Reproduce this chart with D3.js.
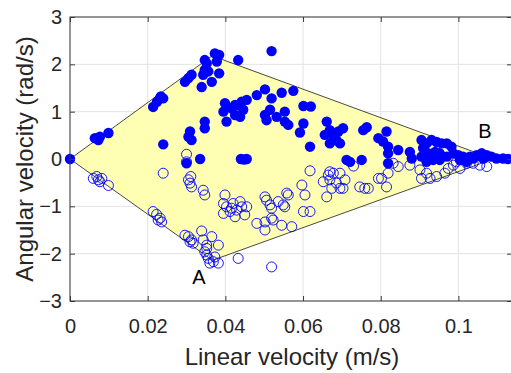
<!DOCTYPE html>
<html>
<head>
<meta charset="utf-8">
<script src="https://cdn.jsdelivr.net/npm/d3@7"></script>
<style>
  body { margin: 0; background: #fff; }
  svg { display: block; font-family: "Liberation Sans", Arial, Helvetica, sans-serif; }
</style>
</head>
<body>
<div id="chart"></div>
<script>
// reachable region (yellow polygon), vertices in data units
var regionX = [0, 0.0366, 0.109, 0.0367];
var regionY = [0, 2.18, 0, -2.14];

// filled markers (upper half)
var filledX = [0, 0.0064, 0.0077, 0.0099, 0.0073, 0.0214, 0.0224, 0.0232, 0.0234, 0.0240, 0.0240,
  0.0296, 0.0305, 0.0313, 0.0339, 0.0347, 0.0352, 0.0347, 0.0343, 0.0365, 0.0373, 0.0384, 0.0378, 0.0384, 0.0356,
  0.0433, 0.0519,
  0.0399, 0.0395, 0.0403, 0.0416, 0.0425, 0.0433, 0.0442, 0.0446, 0.0455, 0.0438, 0.0425,
  0.0481, 0.0502, 0.0519, 0.0545, 0.0575,
  0.0515, 0.0506, 0.0502, 0.0532, 0.0553, 0.0553, 0.0562,
  0.0601, 0.0620, 0.0601, 0.0592, 0.0618,
  0.0661, 0.0656, 0.0669, 0.0678, 0.0691, 0.0703, 0.0695, 0.0669, 0.0686,
  0.0347, 0.0347, 0.0309, 0.0305, 0.0313,
  0.0300, 0.0335, 0.0440, 0.0448, 0.0455, 0.0721, 0.0712,
  0.0755, 0.0764, 0.0794, 0.0815, 0.0806, 0.0819, 0.0845, 0.0875, 0.0880,
  0.0751, 0.0819, 0.0819,
  0.0905, 0.0918, 0.0931, 0.0944, 0.0957, 0.0970, 0.0982, 0.0909, 0.0922, 0.0940, 0.0952,
  0.0905, 0.0918, 0.0935, 0.0952, 0.0970, 0.0987, 0.1000, 0.1012, 0.1030, 0.1047, 0.1060,
  0.1073, 0.1085, 0.1098, 0.1115, 0.1128, 0.1004, 0.1021, 0.1038, 0.1064];
var filledY = [0, 0.44, 0.47, 0.55, 0.40, 1.10, 1.21, 1.29, 1.32, 1.28, 0.31,
  1.63, 1.71, 1.78, 1.52, 2.09, 2.02, 1.88, 1.78, 1.63, 2.23, 2.20, 2.06, 1.81, 1.85,
  2.09, 2.28,
  1.18, 1.00, 0.79, 1.07, 0.93, 1.14, 1.21, 1.04, 1.25, 0.89, 1.14,
  1.35, 1.47, 1.28, 1.40, 1.44,
  1.04, 0.82, 0.93, 0.89, 1.00, 0.79, 0.72,
  1.12, 1.11, 0.75, 0.56, 0.26,
  0.79, 0.51, 0.61, 0.47, 0.58, 0.65, 0.33, 0.33, 0.40,
  0.79, 0.65, 0.58, 0.47, 0.40,
  -0.09, 0.0, 0.0, -0.01, 0.0, -0.06, -0.02,
  0.61, 0.67, 0.44, 0.58, 0.37, 0.26, 0.19, 0.15, 0.01,
  -0.02, 0.12, -0.09,
  0.40, 0.33, 0.40, 0.36, 0.33, 0.33, 0.26, 0.23, 0.12, 0.15, 0.12,
  0.05, -0.06, -0.02, -0.02, 0.05, 0.12, 0.08, 0.05, 0.05, 0.08, 0.12,
  0.08, 0.05, 0.01, 0.01, 0.0, -0.02, -0.06, 0.01, 0.01];

// open markers (lower half)
var openX = [0.0300, 0.0060, 0.0069, 0.0073, 0.0082, 0.0099, 0.0077,
  0.0214, 0.0223, 0.0232, 0.0236, 0.0227, 0.0300, 0.0240,
  0.0305, 0.0309, 0.0313, 0.0311, 0.0343, 0.0347,
  0.0296, 0.0305, 0.0313, 0.0317, 0.0309, 0.0339, 0.0343, 0.0352, 0.0347, 0.0352, 0.0356,
  0.0399, 0.0395, 0.0403, 0.0412, 0.0420, 0.0429, 0.0438, 0.0442, 0.0450, 0.0425, 0.0416, 0.0455,
  0.0481, 0.0502, 0.0502, 0.0523, 0.0506, 0.0515, 0.0536, 0.0553, 0.0562, 0.0558, 0.0571,
  0.0597, 0.0605, 0.0618, 0.0601,
  0.0618, 0.0549, 0.0519, 0.0519, 0.0545, 0.0502, 0.0395,
  0.0652, 0.0665, 0.0669, 0.0678, 0.0695, 0.0686, 0.0703, 0.0695, 0.0661, 0.0674,
  0.0365, 0.0382, 0.0352, 0.0373, 0.0382, 0.0369, 0.0360, 0.0433, 0.0519,
  0.0746, 0.0759, 0.0768, 0.0794, 0.0802, 0.0815, 0.0819, 0.0845, 0.0832, 0.0875,
  0.0901, 0.0905, 0.0918, 0.0927, 0.0944, 0.0965, 0.0974, 0.0987, 0.1004, 0.0995,
  0.1021, 0.1038, 0.1055, 0.1073, 0.0708, 0.0669, 0.0730];
var openY = [0.10, -0.41, -0.37, -0.44, -0.41, -0.56, -0.48,
  -1.11, -1.17, -1.25, -1.33, -1.29, -0.06, -0.30,
  -0.44, -0.51, -0.59, -0.37, -0.66, -0.76,
  -1.61, -1.64, -1.71, -1.78, -1.75, -1.52, -1.71, -1.82, -1.96, -2.03, -2.10,
  -0.76, -0.94, -1.01, -1.11, -0.94, -1.08, -0.90, -1.01, -1.18, -1.22, -1.04, -1.01,
  -1.36, -1.33, -1.50, -1.29, -0.87, -0.97, -0.90, -1.01, -0.76, -0.72, -1.43,
  -0.55, -0.76, -1.11, -1.11,
  -0.25, -0.97, -1.04, -1.25, -1.40, -0.80, -1.15,
  -0.48, -0.34, -0.44, -0.30, -0.30, -0.51, -0.62, -0.62, -0.80, -0.62,
  -1.64, -1.82, -1.89, -2.07, -2.20, -2.17, -2.20, -2.10, -2.28,
  -0.59, -0.62, -0.62, -0.41, -0.41, -0.59, -0.30, -0.16, -0.09, -0.13,
  -0.23, -0.41, -0.30, -0.41, -0.37, -0.30, -0.20, -0.13, -0.20, -0.06,
  -0.09, -0.09, -0.13, -0.16, -0.44, -0.27, -0.15];

var xTicks = [0, 0.02, 0.04, 0.06, 0.08, 0.1];
var yTicks = [-3, -2, -1, 0, 1, 2, 3];
var xMax = 0.1138;

var W = 511, H = 373;
var mLeft = 70, mRight = 512, mTop = 17, mBottom = 301;

var svg = d3.select("#chart").append("svg")
    .attr("width", W)
    .attr("height", H);

var x = d3.scaleLinear().domain([0, xMax]).range([mLeft, mRight]);
var y = d3.scaleLinear().domain([-3, 3]).range([mBottom, mTop]);

// grid
svg.append("g").selectAll("line").data(xTicks).enter().append("line")
    .attr("x1", d => x(d)).attr("x2", d => x(d))
    .attr("y1", mTop).attr("y2", mBottom)
    .attr("stroke", "#e3e3e3").attr("stroke-width", 1);
svg.append("g").selectAll("line").data(yTicks).enter().append("line")
    .attr("x1", mLeft).attr("x2", mRight)
    .attr("y1", d => y(d)).attr("y2", d => y(d))
    .attr("stroke", "#e3e3e3").attr("stroke-width", 1);

// region
var pts = regionX.map((v, i) => [x(v), y(regionY[i])]);
svg.append("path")
    .attr("d", d3.line()(pts) + "Z")
    .attr("fill", "#ffffb4")
    .attr("stroke", "#333")
    .attr("stroke-width", 0.9);

// markers
svg.append("g").selectAll("circle").data(openX).enter().append("circle")
    .attr("cx", d => x(d))
    .attr("cy", (d, i) => y(openY[i]))
    .attr("r", 5)
    .attr("fill", "none")
    .attr("stroke", "#0000ff")
    .attr("stroke-width", 0.9);

svg.append("g").selectAll("circle").data(filledX).enter().append("circle")
    .attr("cx", d => x(d))
    .attr("cy", (d, i) => y(filledY[i]))
    .attr("r", 5.2)
    .attr("fill", "#0000ff");

// axes
var axisColor = "#3a3a3a";
function styleAxis(g) {
  g.select(".domain").remove();
  g.selectAll(".tick line").attr("stroke", axisColor);
  g.selectAll(".tick text").attr("fill", "#262626").style("font-size", "20px");
}

svg.append("g")
    .attr("transform", "translate(0," + mBottom + ")")
    .call(d3.axisBottom(x).tickValues(xTicks).tickSize(-5).tickPadding(18)
      .tickFormat(d => d === 0 ? "0" : String(+d.toFixed(2))))
    .call(styleAxis)
    .attr("font-family", null);

svg.append("g")
    .attr("transform", "translate(0," + mTop + ")")
    .call(d3.axisTop(x).tickValues(xTicks).tickSize(-5).tickFormat(""))
    .call(styleAxis);

svg.append("g")
    .attr("transform", "translate(" + mLeft + ",0)")
    .call(d3.axisLeft(y).tickValues(yTicks).tickSize(-5).tickPadding(8).tickFormat(d3.format("d")))
    .call(styleAxis)
    .attr("font-family", null);

svg.append("g")
    .attr("transform", "translate(" + mRight + ",0)")
    .call(d3.axisRight(y).tickValues(yTicks).tickSize(-5).tickFormat(""))
    .call(styleAxis);

// frame
svg.append("rect")
    .attr("x", mLeft).attr("y", mTop)
    .attr("width", mRight - mLeft).attr("height", mBottom - mTop)
    .attr("fill", "none")
    .attr("stroke", axisColor)
    .attr("stroke-width", 1);

// labels
svg.append("text")
    .attr("x", (mLeft + mRight) / 2 + 1)
    .attr("y", 365)
    .attr("text-anchor", "middle")
    .attr("fill", "#262626")
    .style("font-size", "24px")
    .text("Linear velocity (m/s)");

svg.append("text")
    .attr("transform", "translate(33," + ((mTop + mBottom) / 2) + ") rotate(-90)")
    .attr("text-anchor", "middle")
    .attr("fill", "#262626")
    .style("font-size", "24px")
    .text("Angular velocity (rad/s)");

svg.append("text")
    .attr("x", 199).attr("y", 284)
    .attr("text-anchor", "middle")
    .style("font-size", "20px")
    .text("A");

svg.append("text")
    .attr("x", 485).attr("y", 138)
    .attr("text-anchor", "middle")
    .style("font-size", "20px")
    .text("B");
</script>
</body>
</html>
